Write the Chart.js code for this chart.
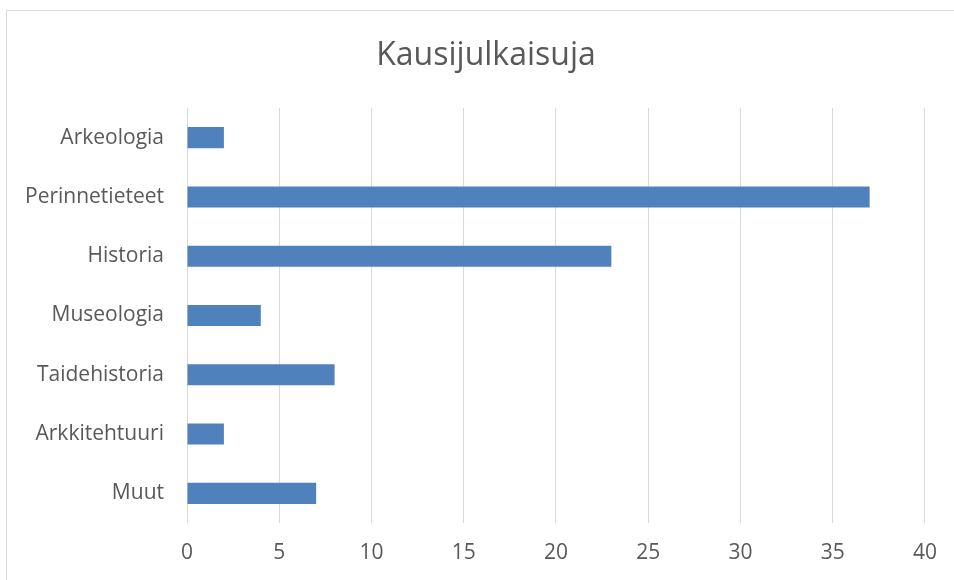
<!DOCTYPE html>
<html lang="fi">

<head>
    <meta charset="UTF-8">
    <title>Kausijulkaisuja</title>
    <script src="https://cdn.jsdelivr.net/npm/chart.js"></script>
    <style>
        body {
            margin: 0;
            background: #fff;
        }

        .wrap {
            position: relative;
            width: 954px;
            height: 580px;
            overflow: hidden;
        }

        .frame {
            position: absolute;
            left: 6px;
            top: 10px;
            width: 960px;
            height: 600px;
            border: 1px solid #d9d9d9;
            box-sizing: border-box;
        }

        canvas {
            position: absolute;
            left: 0;
            top: 0;
        }
    </style>
</head>

<body>
    <div class="wrap">
        <div class="frame"></div>
        <canvas id="chart" width="954" height="580"></canvas>
    </div>

    <script>
        const chartTitle = 'Kausijulkaisuja';
        const categories = ['Arkeologia', 'Perinnetieteet', 'Historia', 'Museologia', 'Taidehistoria', 'Arkkitehtuuri', 'Muut'];
        const counts = [2, 37, 23, 4, 8, 2, 7];
        const xTicks = [0, 5, 10, 15, 20, 25, 30, 35, 40];

        const textColor = '#595959';
        const fontFamily = '"Open Sans", "Liberation Sans", sans-serif';

        // Title centred over the frame (the built-in one centres over the canvas box)
        const frameTitle = {
            id: 'frameTitle',
            afterDraw(chart) {
                const { ctx } = chart;
                ctx.save();
                ctx.font = '32px ' + fontFamily;
                ctx.fillStyle = textColor;
                ctx.textAlign = 'center';
                ctx.textBaseline = 'middle';
                ctx.fillText(chartTitle, 486, 56);
                ctx.restore();
            }
        };

        const ctx = document.getElementById('chart').getContext('2d');
        const chart = new Chart(ctx, {
            type: 'bar',
            data: {
                labels: categories,
                datasets: [{
                    data: counts,
                    backgroundColor: '#4f81bd',
                    borderWidth: 0,
                    categoryPercentage: 1,
                    barPercentage: 0.355
                }]
            },
            plugins: [frameTitle],
            options: {
                indexAxis: 'y',
                responsive: false,
                animation: false,
                layout: {
                    padding: { left: 0, right: 29, top: 108, bottom: 0 }
                },
                plugins: {
                    legend: { display: false },
                    tooltip: { enabled: false },
                    title: { display: false }
                },
                scales: {
                    x: {
                        min: xTicks[0],
                        max: xTicks[xTicks.length - 1],
                        afterBuildTicks(scale) {
                            scale.ticks = xTicks.map(v => ({ value: v }));
                        },
                        grid: { color: '#d9d9d9', lineWidth: 1, drawTicks: false },
                        border: { display: false },
                        ticks: {
                            color: textColor,
                            padding: 17,
                            font: { family: fontFamily, size: 21 }
                        },
                        afterFit(scale) {
                            scale.height = 57;
                        }
                    },
                    y: {
                        grid: { display: false, drawTicks: false },
                        border: { display: false },
                        ticks: {
                            color: textColor,
                            padding: 23,
                            font: { family: fontFamily, size: 21 }
                        },
                        afterFit(scale) {
                            scale.width = 187;
                        }
                    }
                }
            }
        });
    </script>
</body>

</html>
